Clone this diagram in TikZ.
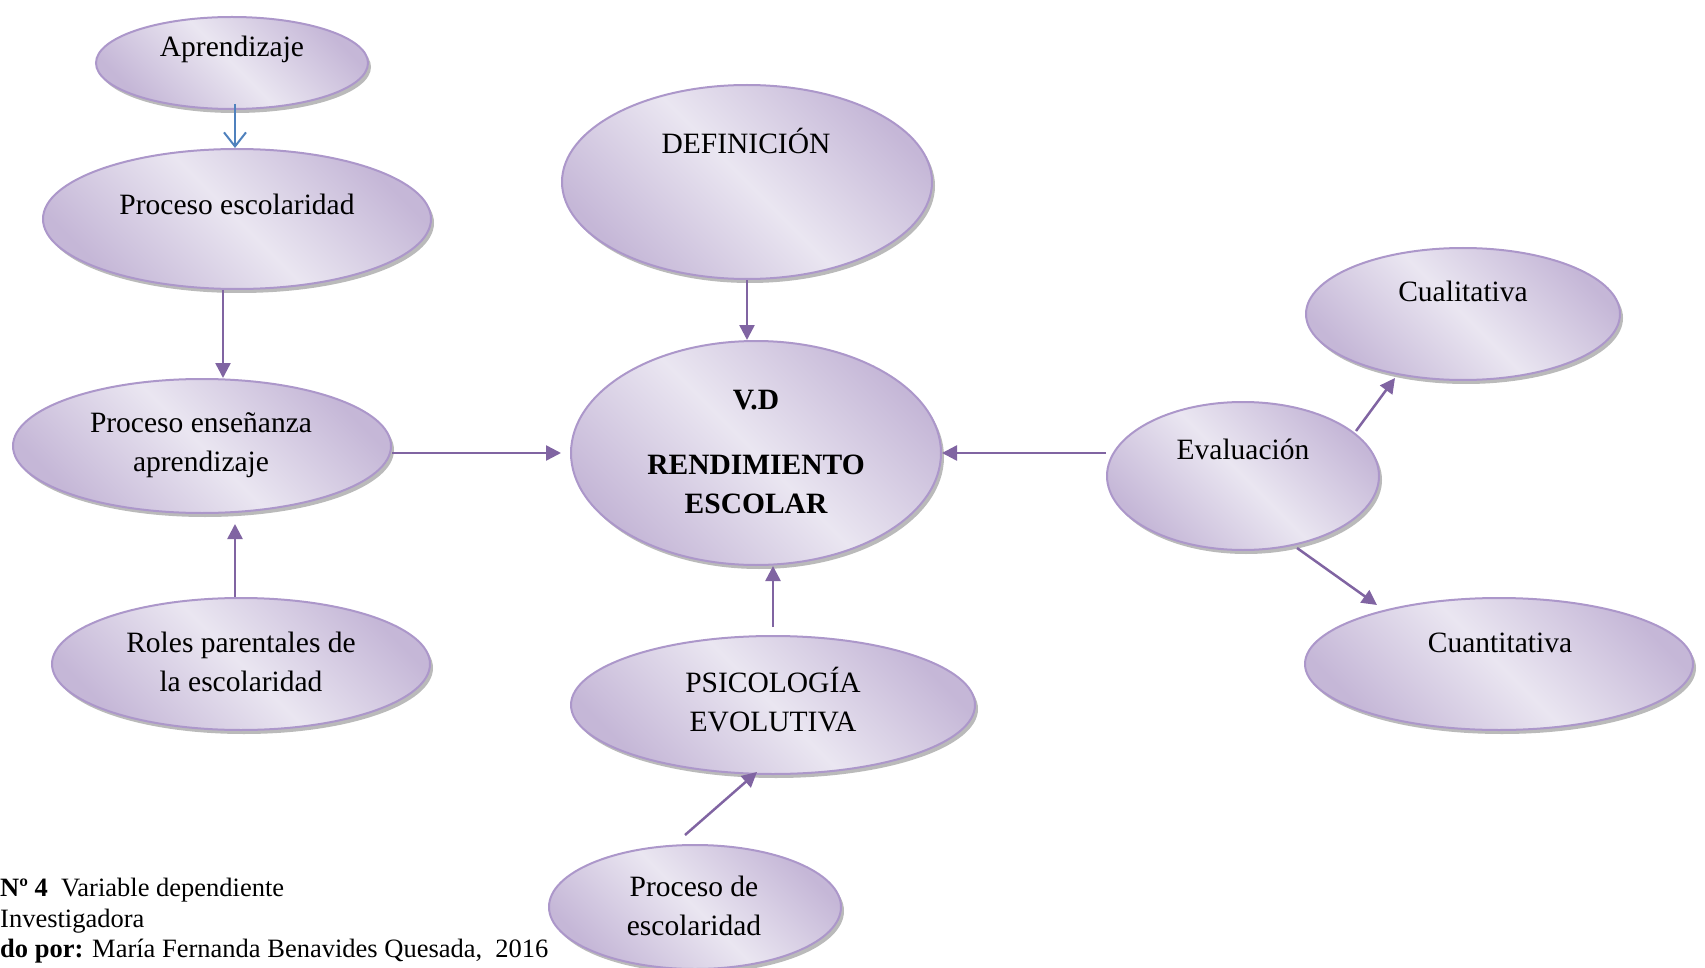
\documentclass[tikz,border=0pt]{standalone}
\usepackage{fontspec}
\setmainfont{Liberation Serif}
\usetikzlibrary{shapes.geometric,arrows.meta,shadows,calc}
\definecolor{edgec}{HTML}{AC97CA}
\definecolor{lightc}{HTML}{EAE6F1}
\definecolor{darkc}{HTML}{C5B7D7}
\definecolor{arr}{HTML}{8064A2}
\definecolor{blu}{HTML}{4F81BD}
\tikzset{
 ell/.style={ellipse, draw=edgec, line width=2pt, inner sep=0pt,
   top color=darkc, bottom color=darkc, middle color=lightc, shading angle=-45,
   drop shadow={shadow xshift=3pt, shadow yshift=-4pt, fill=black!45, opacity=0.6}},
 lbl/.style={font=\fontsize{29.5}{39}\selectfont, align=center, inner sep=0pt},
 captxt/.style={font=\fontsize{26.5}{30}\selectfont, anchor=west, inner sep=0pt},
 link/.style={draw=arr, line width=2.5pt, -{Triangle[length=15pt,width=15pt]}},
 blink/.style={draw=blu, line width=2pt, -{Straight Barb[length=14pt,width=22pt]}}
}
\begin{document}
\begin{tikzpicture}[x=1pt,y=-1pt]
\useasboundingbox (0,0) rectangle (1705,968);
% ellipses
\node[ell, minimum width=272pt, minimum height=92pt] (apr) at (232,63) {};
\node[ell, minimum width=388pt, minimum height=140pt] (pes) at (237,219) {};
\node[ell, minimum width=378pt, minimum height=134pt] (pea) at (202,446) {};
\node[ell, minimum width=378pt, minimum height=132pt] (rol) at (241,664) {};
\node[ell, minimum width=370pt, minimum height=194pt] (def) at (747,182) {};
\node[ell, minimum width=370pt, minimum height=224pt] (vd) at (756,453) {};
\node[ell, minimum width=404pt, minimum height=138pt] (psi) at (773,705) {};
\node[ell, minimum width=292pt, minimum height=124pt] (pde) at (695,907) {};
\node[ell, minimum width=314pt, minimum height=132pt] (cual) at (1463,314) {};
\node[ell, minimum width=272pt, minimum height=148pt] (ev) at (1243,476) {};
\node[ell, minimum width=388pt, minimum height=132pt] (cuan) at (1499,664) {};
% texts
\node[lbl] (tapr) at (232,49) {Aprendizaje};
\node[lbl] (tpes) at (237,204) {Proceso escolaridad};
\node[lbl] (tpea) at (201,445) {Proceso enseñanza\\aprendizaje};
\node[lbl] (trol) at (241,662) {Roles parentales de\\la escolaridad};
\node[lbl] (tdef) at (746,141) {DEFINICIÓN};
\node[lbl, font=\fontsize{29.5}{39}\selectfont\bfseries] (tvd1) at (756,400) {V.D};
\node[lbl, font=\fontsize{29.5}{39}\selectfont\bfseries] (tvd2) at (756,484) {RENDIMIENTO\\ESCOLAR};
\node[lbl] (tpsi) at (773,700) {PSICOLOGÍA\\EVOLUTIVA};
\node[lbl] (tpde) at (694,906) {Proceso de\\escolaridad};
\node[lbl] (tcual) at (1463,291) {Cualitativa};
\node[lbl] (tev) at (1243,449) {Evaluación};
\node[lbl] (tcuan) at (1500,643) {Cuantitativa};
% connectors
\draw[blink, shorten <=-6pt] ([xshift=3pt]apr.south) -- ([xshift=3pt]apr.south |- pes.north);
\draw[link] ([xshift=-14pt]pes.south) -- ([xshift=-14pt]pes.south |- pea.north);
\draw[link, shorten >=10pt] ([xshift=-6pt]rol.north) -- ([xshift=-6pt]rol.north |- pea.south);
\draw[link, shorten >=9pt] (pea.east |- vd.west) -- (vd.west);
\draw[link] (def.south) -- (def.south |- vd.north);
\draw[link] (ev.west |- vd.east) -- (vd.east);
\draw[link, shorten <=8pt] (psi.north) -- (psi.north |- vd.south);
\draw[link] ($(pde.north)+(-10,-9)$) -- ($(psi.south)+(-16,-3)$);
\draw[link] ($(ev.center)+(113,-45)$) -- ($(cual.south)+(-68,-3)$);
\draw[link] ($(ev.south)+(54,-3)$) -- ($(cuan.north)+(-122,8)$);
% caption
\node[captxt] (c1) at (0,890) {\textbf{Nº 4}\ \ Variable dependiente};
\node[captxt] (c2) at (0,921) {Investigadora};
\node[captxt] (c3) at (0,951) {\textbf{do por:} María Fernanda Benavides Quesada,\ \ 2016};
\end{tikzpicture}
\end{document}
